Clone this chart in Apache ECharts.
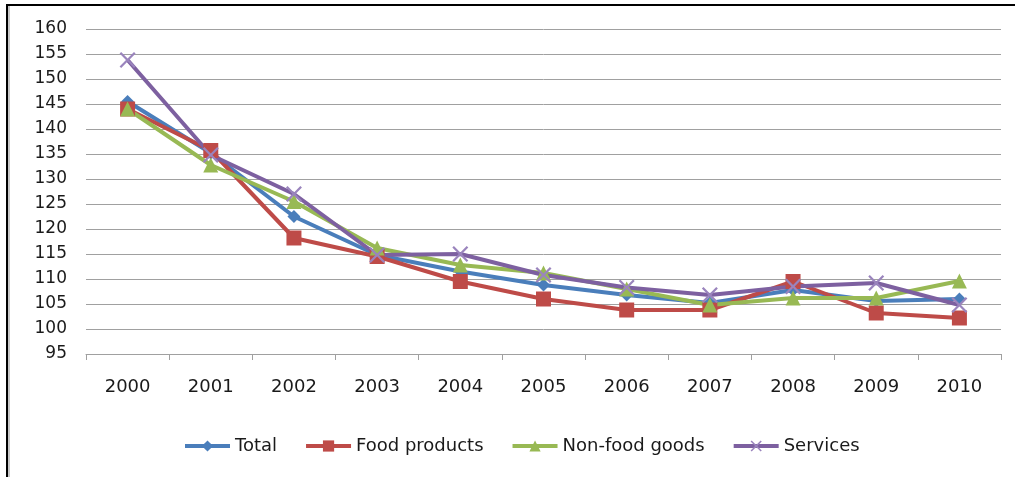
<!DOCTYPE html>
<html>
<head>
<meta charset="utf-8">
<script src="https://cdn.jsdelivr.net/npm/echarts@6/dist/echarts.min.js"></script>
<style>
  html, body { margin: 0; padding: 0; background: #ffffff; }
  #chart { width: 1015px; height: 477px; }
</style>
</head>
<body>
<div id="chart"></div>
<script>
// Price indices by year
const years = ['2000', '2001', '2002', '2003', '2004', '2005', '2006', '2007', '2008', '2009', '2010'];
const total = [145.5, 135.2, 122.5, 114.8, 111.5, 108.8, 106.8, 105.2, 107.8, 105.6, 106.0];
const foodProducts = [144.0, 135.7, 118.2, 114.5, 109.5, 106.0, 103.8, 103.8, 109.5, 103.2, 102.2];
const nonFoodGoods = [144.0, 132.8, 125.5, 116.2, 112.8, 111.2, 108.0, 104.8, 106.2, 106.2, 109.6];
const services = [153.8, 134.8, 127.0, 114.8, 115.0, 110.8, 108.3, 106.8, 108.5, 109.2, 104.8];

// Thin "x" marker
const crossPath = 'path://M0,1L1,0L5,4L9,0L10,1L6,5L10,9L9,10L5,6L1,10L0,9L4,5Z';

const FONT = 'DejaVu Sans';
const TEXT = '#1a1a1a';

function lineSeries(name, data, color, symbol, size, markerColor) {
  return {
    name: name,
    type: 'line',
    data: data,
    symbol: symbol,
    symbolSize: size,
    showAllSymbol: true,
    lineStyle: { color: color, width: 4 },
    itemStyle: { color: markerColor || color, borderWidth: 0 },
    emphasis: { disabled: true },
    animation: false
  };
}

const chart = echarts.init(document.getElementById('chart'));
chart.setOption({
  backgroundColor: '#ffffff',
  animation: false,
  grid: { left: 86, right: 14, top: 29, bottom: 123 },
  legend: {
    left: 178,
    top: 432,
    itemWidth: 45,
    itemHeight: 14,
    itemGap: 27,
    lineStyle: { width: 4 },
    textStyle: { fontFamily: FONT, fontSize: 18, color: TEXT },
    data: ['Total', 'Food products', 'Non-food goods', 'Services']
  },
  xAxis: {
    type: 'category',
    data: years,
    boundaryGap: true,
    axisLine: { lineStyle: { color: '#a0a0a0', width: 1 } },
    axisTick: { show: true, length: 6, lineStyle: { color: '#a0a0a0' } },
    axisLabel: { fontFamily: FONT, fontSize: 18, color: TEXT, margin: 24 }
  },
  yAxis: {
    type: 'value',
    min: 95,
    max: 160,
    interval: 5,
    axisLine: { show: false },
    axisTick: { show: false },
    splitLine: { lineStyle: { color: '#a0a0a0', width: 1 } },
    axisLabel: { fontFamily: FONT, fontSize: 17, color: TEXT, margin: 19 }
  },
  graphic: [
    { type: 'line', shape: { x1: 6, y1: 5, x2: 1015, y2: 5 }, style: { stroke: '#000000', lineWidth: 2 } },
    { type: 'line', shape: { x1: 7, y1: 4, x2: 7, y2: 477 }, style: { stroke: '#000000', lineWidth: 2 } },
    { type: 'line', shape: { x1: 9, y1: 6, x2: 9, y2: 477 }, style: { stroke: '#c8c8c8', lineWidth: 2 } }
  ],
  series: [
    lineSeries('Total', total, '#4a7ebb', 'diamond', 13),
    lineSeries('Food products', foodProducts, '#be4b48', 'rect', 15),
    lineSeries('Non-food goods', nonFoodGoods, '#98b954', 'triangle', 15),
    lineSeries('Services', services, '#7d60a0', crossPath, 16, '#9a84bd')
  ]
});
</script>
</body>
</html>
